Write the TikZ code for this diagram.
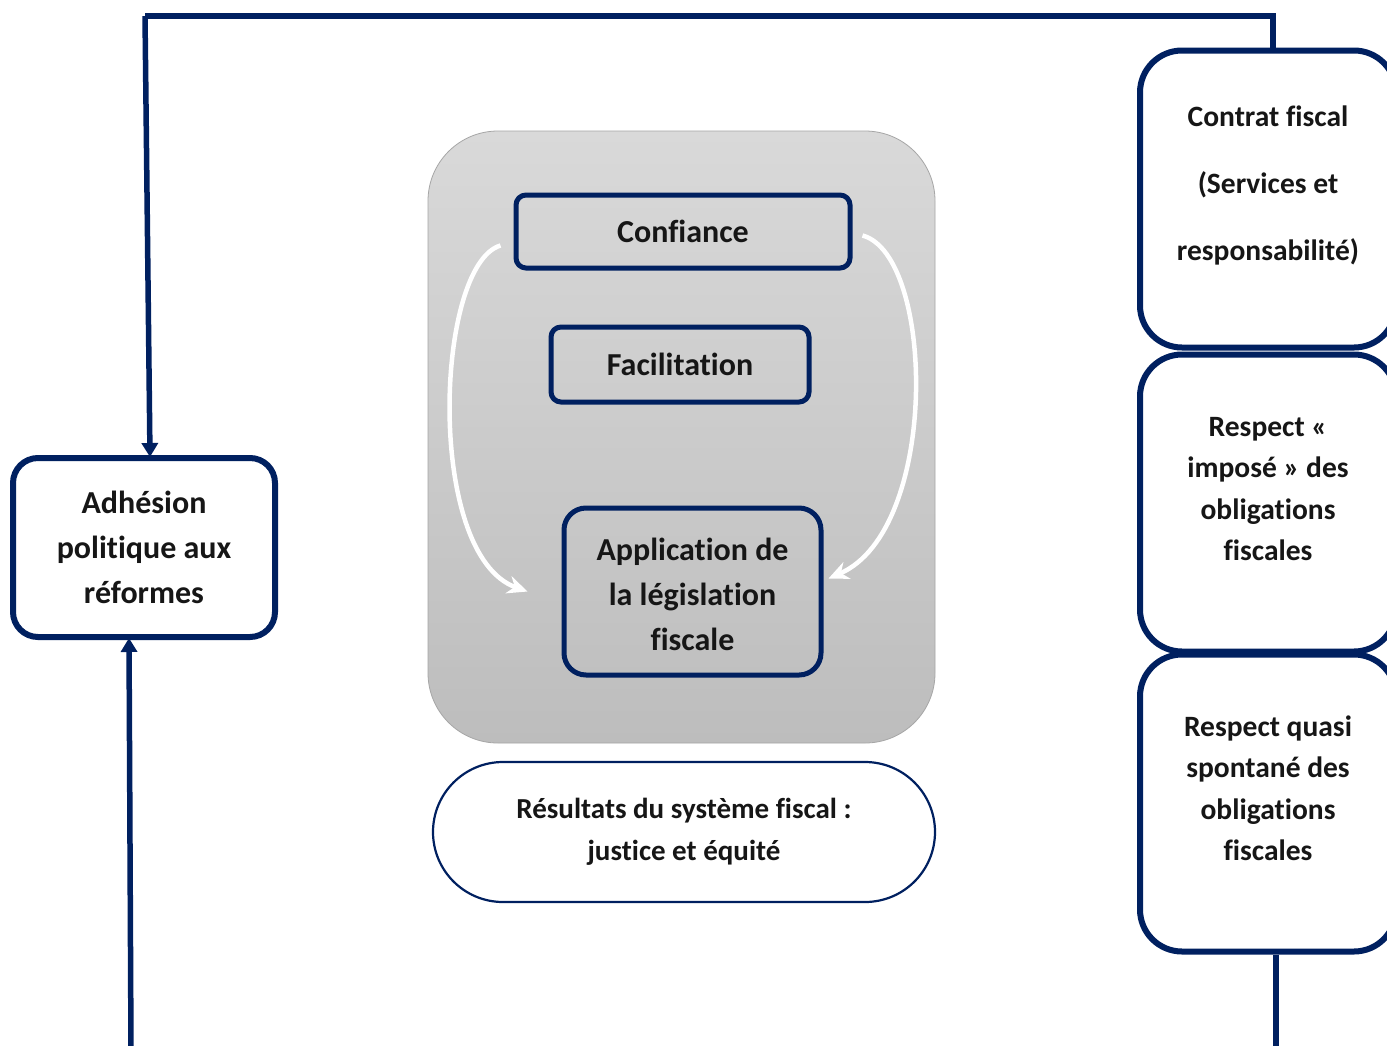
\documentclass[tikz,border=0pt]{standalone}
\usepackage{fontspec}
\setmainfont{Carlito}[Ligatures={CommonOff,ContextualOff}]
\usetikzlibrary{arrows.meta,calc}
\definecolor{navy}{HTML}{002060}
\definecolor{ink}{HTML}{161616}
\definecolor{gtop}{HTML}{D9D9D9}
\definecolor{gbot}{HTML}{BDBDBD}
\definecolor{gedge}{HTML}{A6A6A6}
\begin{document}
\begin{tikzpicture}[x=1pt,y=-1pt,
  txt/.style={text=ink,font=\bfseries\fontsize{32}{45}\selectfont,align=center},
  bigbox/.style={draw=navy,line width=6pt,fill=white,rounded corners=42pt,minimum width=256pt,minimum height=297pt},
  innerbox/.style={draw=navy,line width=5pt,rounded corners=10pt,txt},
  conn/.style={draw=navy,line width=5.5pt},
  whitearrow/.style={draw=white,line width=4.5pt,-{Stealth[length=20pt,width=18pt]}}
]
\useasboundingbox (0,0) rectangle (1387,1045);
\clip (0,0) rectangle (1387,1045);
\fill[white] (0,0) rectangle (1387,1045);

% central grey panel
\node[draw=gedge,line width=0.8pt,rounded corners=70pt,minimum width=507pt,minimum height=612pt,
      top color=gtop,bottom color=gbot] (panel) at (681.5,437) {};

\node[innerbox,minimum width=334pt,minimum height=73pt] (conf) at (683,231.5) {Confiance};
\node[innerbox,minimum width=258pt,minimum height=75pt] (fac) at (680,364.5) {Facilitation};
\node[innerbox,rounded corners=22pt,minimum width=257pt,minimum height=167pt,
      label={[txt,yshift=-3pt]center:{Application de\\la législation\\fiscale}}] (app) at (692.5,591.5) {};

\node[draw=navy,line width=2.2pt,fill=white,rounded corners=70pt,minimum width=502pt,minimum height=140pt,
      txt,font=\bfseries\fontsize{29}{42}\selectfont] (res) at (684,832)
  {Résultats du système fiscal :\\justice et équité};

% white curved arrows
\draw[whitearrow] ([xshift=-13pt,yshift=-14pt]conf.west) .. controls (435,265) and (425,555) .. ([xshift=-34pt]app.west);
\draw[whitearrow] ([xshift=10pt,yshift=-4pt]conf.east) .. controls (935,255) and (940,530) .. ([xshift=5pt,yshift=13pt]app.east);

% left box
\node[draw=navy,line width=6pt,fill=white,rounded corners=25pt,minimum width=262pt,minimum height=179pt,txt] (adh) at (144,547.5)
  {Adhésion\\politique aux\\réformes};

% right column
\node[bigbox,label={[txt,yshift=14pt,font=\bfseries\fontsize{29.5}{67}\selectfont]center:{Contrat fiscal\\(Services et\\responsabilité)}}] (contrat) at (1268,199) {};
\node[bigbox,label={[txt,yshift=14pt,font=\bfseries\fontsize{29.5}{41.5}\selectfont]center:{Respect «\\imposé » des\\obligations\\fiscales}}] (imp) at (1268,503) {};
\node[bigbox,label={[txt,yshift=15pt,font=\bfseries\fontsize{29.5}{41.5}\selectfont]center:{Respect quasi\\spontané des\\obligations\\fiscales}}] (quasi) at (1268,803) {};

% connectors
\coordinate (tr) at (1273,16);
\coordinate (tl) at (145,16);
\coordinate (bl) at (131,1050);
\coordinate (br) at (1276,1050);
\draw[conn] ([xshift=5pt]contrat.north) -- (tr) -- (tl);
\draw[conn,-{Triangle[length=14pt,width=16pt]}] (tl) -- ([xshift=6pt,yshift=-2pt]adh.north);
\draw[conn,-{Triangle[length=14pt,width=16pt]}] (bl) -- ([xshift=-15pt,yshift=2pt]adh.south);
\draw[conn] ([xshift=8pt]quasi.south) -- (br);
\end{tikzpicture}
\end{document}
